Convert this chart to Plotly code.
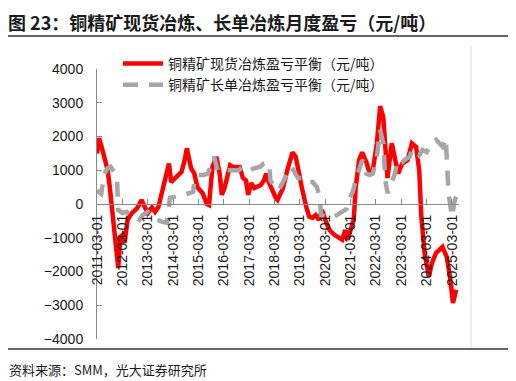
import plotly.graph_objects as go

# ---------------- data ----------------
spot_dates = [
    "2011-03-01", "2011-04-01", "2011-06-01", "2011-08-01", "2011-09-01", "2011-10-15",
    "2011-12-01", "2012-01-01", "2012-02-01", "2012-03-01", "2012-04-01", "2012-05-15",
    "2012-07-15", "2012-10-01", "2012-12-01", "2013-01-15", "2013-03-01", "2013-05-01",
    "2013-06-15", "2013-08-01", "2013-10-01", "2013-11-15", "2014-01-01", "2014-02-01",
    "2014-04-01", "2014-05-15", "2014-07-01", "2014-08-15", "2014-09-15", "2014-11-15",
    "2015-01-01", "2015-02-15", "2015-05-01", "2015-07-01", "2015-08-01", "2015-09-01",
    "2015-09-20", "2015-11-15", "2016-01-01", "2016-02-01", "2016-03-15", "2016-05-01",
    "2016-06-01", "2016-07-15", "2016-09-01", "2016-10-15", "2016-12-01", "2017-01-15",
    "2017-02-15", "2017-04-01", "2017-05-15", "2017-07-01", "2017-08-15", "2017-10-01",
    "2017-11-01", "2017-12-15", "2018-02-01", "2018-03-20", "2018-04-15", "2018-07-01",
    "2018-09-01", "2018-11-15", "2019-01-01", "2019-02-15", "2019-04-01", "2019-06-01",
    "2019-07-15", "2019-09-01", "2019-10-15", "2019-12-01", "2020-01-15", "2020-03-01",
    "2020-05-01", "2020-07-15", "2020-09-15", "2020-11-01", "2020-12-15", "2021-01-15",
    "2021-03-01", "2021-04-15", "2021-05-15", "2021-07-01", "2021-08-15", "2021-10-15",
    "2021-12-01", "2022-01-15", "2022-03-15", "2022-05-01", "2022-06-15", "2022-07-15",
    "2022-08-15", "2022-10-15", "2022-12-01", "2023-01-15", "2023-03-15", "2023-06-01",
    "2023-08-01", "2023-10-01", "2023-11-15", "2023-12-15", "2024-02-01", "2024-04-01",
    "2024-05-15", "2024-07-15", "2024-09-01", "2024-10-15", "2024-12-15", "2025-02-01",
    "2025-03-15", "2025-05-01",
]
spot_values = [
    1500, 1950, 1500, 1000, 500, -470,
    -1450, -1900, -970, -920, -1150, -470,
    -270, -120, 120, -120, -270, -100,
    -230, -90, 400, 800, 1200, 650,
    770, 900, 950, 1300, 1650, 1060,
    900, 500, 320, 0, -30, 700,
    1100, 1400, 900, 270, 500, 900,
    1150, 1100, 1100, 1100, 770, 700,
    270, 620, 470, 500, 560, 700,
    900, 620, 360, 180, 120, 470,
    1000, 1530, 1400, 900, 470, -90,
    -380, -410, -330, -470, -180, -470,
    -770, -920, -1000, -1060, -770, -1060,
    -770, -470, 500, 1300, 1530, 1240,
    900, 1000, 1800, 2900, 2570, 1400,
    770, 1800, 1300, 900, 1200, 1300,
    1800, 1690, 1000, -380, -1450, -2160,
    -1750, -1450, -1360, -1270, -1570, -2160,
    -2930, -2540,
]

long_dates = [
    "2011-03-01", "2011-05-01", "2011-06-15", "2011-08-01", "2011-09-15", "2011-11-01",
    "2011-12-15", "2012-01-01", "2012-03-01", "2012-05-01", "2012-06-15", "2012-09-01",
    "2012-11-01", "2012-12-15", "2013-03-01", "2013-05-15", "2013-07-15", "2013-10-01",
    "2013-12-01", "2014-01-15", "2014-05-01", "2014-08-01", "2014-12-15", "2015-01-01",
    "2015-02-15", "2015-05-15", "2015-07-15", "2015-09-01", "2015-10-15", "2015-12-01",
    "2016-02-01", "2016-04-15", "2016-10-01", "2016-12-01", "2017-02-01", "2017-03-15",
    "2017-05-01", "2017-08-01", "2017-10-01", "2017-12-15", "2018-01-01", "2018-03-01",
    "2018-05-01", "2018-07-01", "2018-09-01", "2018-10-15", "2018-12-01", "2019-02-01",
    "2019-04-01", "2019-05-15", "2019-09-01", "2019-11-01", "2019-12-15", "2020-01-01",
    "2020-03-15", "2020-06-01", "2020-08-15", "2020-11-01", "2021-01-01", "2021-02-15",
    "2021-04-01", "2021-05-15", "2021-06-15", "2021-07-15", "2021-08-15", "2021-09-15",
    "2021-10-15", "2021-12-01", "2022-01-15", "2022-03-15", "2022-05-01", "2022-06-15",
    "2022-07-15", "2022-08-15", "2022-10-15", "2022-12-01", "2023-01-01", "2023-03-15",
    "2023-04-15", "2023-07-01", "2023-08-01", "2023-10-01", "2023-11-15", "2024-01-01",
    "2024-03-01", "2024-04-01", "2024-05-15", "2024-07-15", "2024-09-01", "2024-10-15",
    "2024-12-01", "2024-12-20", "2025-01-10", "2025-03-01", "2025-04-10", "2025-05-15",
]
long_values = [
    400, 300, 900, 1060, 1100, 950,
    700, -180, -270, -230, -330, -380,
    -470, -330, -230, -380, -470, -530,
    -560, 180, 210, 270, 360, 650,
    860, 860, 900, 1200, 1400, 1000,
    950, 1000, 1000, 1100, 1100, 1000,
    1050, 1100, 1200, 1200, 700, 500,
    410, 650, 900, 1100, 1000, 770,
    770, 650, 650, 500, 180, -330,
    -380, -410, -330, -230, -150, 180,
    360, 700, 900, 1100, 1300, 1200,
    900, 860, 900, 1400, 2190, 1800,
    700, 320, 620, 900, 1300, 1240,
    1300, 1400, 1600, 1600, 1450, 1600,
    1540, 1660, 1750, 1900, 1800, 1700,
    1950, 1100, 320, -380, 120, 270,
]

series_names = ["铜精矿现货冶炼盈亏平衡（元/吨）", "铜精矿长单冶炼盈亏平衡（元/吨）"]
tick_dates = [f"{y}-03-01" for y in range(2011, 2026)]
tick_labels = [f"{y}-03-01" for y in range(2011, 2026)]
y_ticks = [4000, 3000, 2000, 1000, 0, -1000, -2000, -3000, -4000]

title_text = "图 23：铜精矿现货冶炼、长单冶炼月度盈亏（元/吨）"
source_text = "资料来源：SMM，光大证券研究所"

# ---------------- layout geometry ----------------
# The page body has a default 8px margin, so the figure is drawn 8px
# right/down of the window corner; all window pixel targets are offset.
OFF = 8
W, H = 516 - OFF, 381 - OFF
L, R, T, B = 97 - OFF, 459 - OFF, 69 - OFF, 339 - OFF  # plot area in figure px
pw, ph = R - L, B - T


def px(x):
    """window pixel x -> paper coordinate"""
    return (x - OFF - L) / pw


def py(y):
    """window pixel y -> paper coordinate"""
    return (B - (y - OFF)) / ph


CJK = "Noto Sans CJK SC"
NUM = "Liberation Sans, Arial"

fig = go.Figure()
fig.add_trace(go.Scatter(
    x=spot_dates, y=spot_values, name=series_names[0], mode="lines",
    line=dict(color="#FF0000", width=4.5),
))
fig.add_trace(go.Scatter(
    x=long_dates, y=long_values, name=series_names[1], mode="lines",
    line=dict(color="#A6A6A6", width=4.5, dash="15px,11px"),
))

fig.update_layout(
    width=W, height=H,
    margin=dict(l=L, r=W - R, t=T, b=H - B, pad=0, autoexpand=False),
    paper_bgcolor="white", plot_bgcolor="white",
    showlegend=True,
    legend=dict(
        x=px(118), y=py(48), xanchor="left", yanchor="top",
        bgcolor="rgba(0,0,0,0)", font=dict(family=CJK, size=14, color="#1a1a1a"),
        itemwidth=40, tracegroupgap=0,
    ),
    xaxis=dict(
        type="date", range=["2011-03-01", "2025-06-10"],
        tickmode="array", tickvals=tick_dates, ticktext=tick_labels,
        tickangle=-90, tickfont=dict(family=NUM, size=14, color="#1a1a1a"),
        showgrid=False, zeroline=False,
        showline=True, linecolor="#898989", linewidth=1,
        ticks="inside", ticklen=5, tickcolor="#898989",
        anchor="free", position=0.5,
        ticklabelstandoff=4,
    ),
    yaxis=dict(
        range=[-4000, 4000], tickmode="array", tickvals=y_ticks,
        tickfont=dict(family=NUM, size=14, color="#1a1a1a"),
        showgrid=False, zeroline=False,
        showline=True, linecolor="#898989", linewidth=1,
        ticks="inside", ticklen=5, tickcolor="#898989",
        ticklabelstandoff=10,
    ),
    annotations=[
        dict(text="<b>" + title_text + "</b>", xref="paper", yref="paper",
             x=px(7), y=py(8), xanchor="left", yanchor="top", showarrow=False,
             font=dict(family=CJK, size=18, color="#1a1a1a"), borderpad=0),
        dict(text=source_text, xref="paper", yref="paper",
             x=px(7), y=py(369), xanchor="left", yanchor="middle", showarrow=False,
             font=dict(family=CJK, size=13, color="#1a1a1a")),
    ],
    shapes=[
        dict(type="line", xref="paper", yref="paper", x0=px(7), x1=px(511),
             y0=py(36), y1=py(36), line=dict(color="#333333", width=1.5)),
        dict(type="line", xref="paper", yref="paper", x0=px(7), x1=px(511),
             y0=py(349), y1=py(349), line=dict(color="#333333", width=1.5)),
        dict(type="line", xref="paper", yref="paper", x0=px(471), x1=px(471),
             y0=py(46), y1=py(348), line=dict(color="#E0E0E0", width=1)),
    ],
)

fig.write_html("out.html")
